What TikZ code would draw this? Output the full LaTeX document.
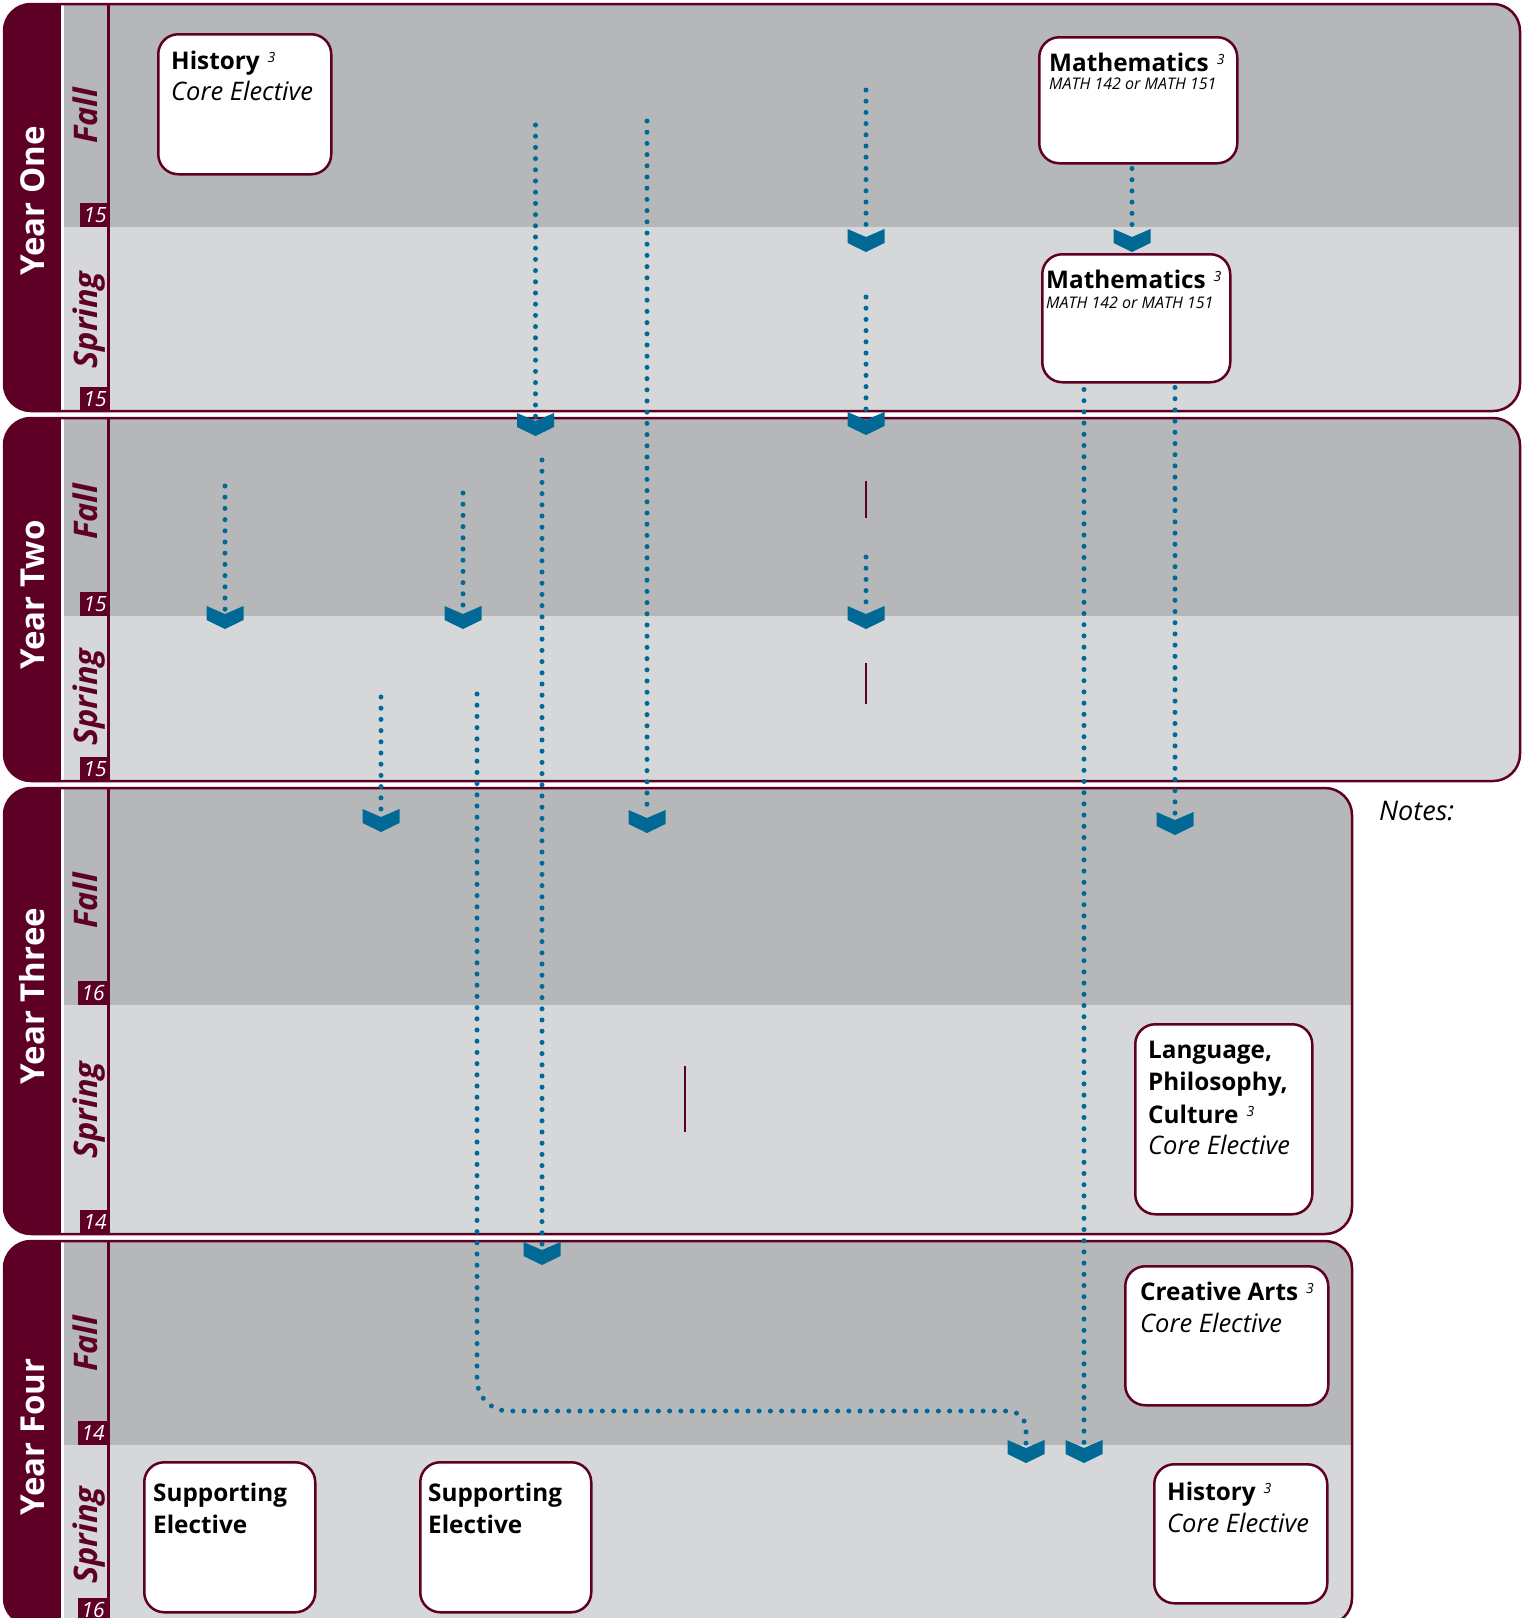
\documentclass[tikz,border=0pt]{standalone}
\usepackage{fontspec}
\setmainfont{Open Sans}
\usetikzlibrary{calc}
\definecolor{mrn}{RGB}{94,0,38}
\definecolor{fallgray}{RGB}{182,183,185}
\definecolor{springgray}{RGB}{214,215,217}
\definecolor{tealblue}{RGB}{0,105,150}
\newcommand\supthree{\hspace{8pt}{\fontsize{14}{14}\selectfont\mdseries\itshape\raisebox{7pt}{3}}}
\newcommand\yrpanel[4]{%
  \begin{scope}
    \clip[rounded corners=27pt] (4,#1) rectangle (#4,#3);
    \fill[fallgray] (4,#1) rectangle (#4,#2);
    \fill[springgray] (4,#2) rectangle (#4,#3);
    \fill[mrn] (4,#1) rectangle (61,#3);
    \fill[white] (61,#1) rectangle (64,#3);
    \draw[mrn, line width=2.5pt] (108.5,#1) -- (108.5,#3);
  \end{scope}
  \draw[mrn, line width=2.5pt, rounded corners=27pt] (4,#1) rectangle (#4,#3);
}
\begin{document}
\begin{tikzpicture}[x=1pt,y=-1pt,
  dotline/.style={draw=tealblue, line width=5pt, line cap=round, dash pattern=on 0pt off 11.2pt},
  redbar/.style={draw=mrn, line width=2.5pt},
  crsbox/.style={draw=mrn, line width=2.5pt, fill=white, rounded corners=20pt, inner sep=0pt, anchor=north west},
  ttl/.style={anchor=base west, inner sep=0pt, font=\fontsize{24.3}{24}\selectfont\bfseries},
  sub/.style={anchor=base west, inner sep=0pt, font=\fontsize{25.5}{25}\selectfont\itshape},
  msub/.style={anchor=base west, inner sep=0pt, font=\fontsize{16}{16}\selectfont\itshape},
  yearlbl/.style={rotate=90, anchor=base, text=white, inner sep=0pt, font=\fontsize{33}{33}\selectfont\bfseries},
  seasonlbl/.style={rotate=90, anchor=base, text=mrn, inner sep=0pt, font=\fontsize{32.5}{32}\selectfont\bfseries\itshape},
  numlbl/.style={fill=mrn, text=white, minimum width=30pt, minimum height=24pt, inner sep=0pt, anchor=south west, font=\fontsize{21}{21}\selectfont\itshape},
  chev/.pic={\fill[tealblue] (-18.5,0) -- (0,8) -- (18.5,0) -- (18.5,14) -- (0,23) -- (-18.5,14) -- cycle;}
]
\clip (0,0) rectangle (1527,1618);
\fill[white] (0,0) rectangle (1527,1618);

% panels
\yrpanel{4}{227}{411}{1520}
\yrpanel{418}{616}{781}{1520}
\yrpanel{788}{1005}{1234}{1352}
\yrpanel{1241}{1445}{1625}{1352}

% credit numbers
\node[numlbl] (n1) at (80,227) {15};
\node[numlbl] (n2) at (80,411) {15};
\node[numlbl] (n3) at (80,616) {15};
\node[numlbl] (n4) at (80,781) {15};
\node[numlbl] (n5) at (78,1005) {16};
\node[numlbl] (n6) at (80,1234) {14};
\node[numlbl] (n7) at (78,1445) {14};
\node[numlbl] (n8) at (78,1622) {16};

% year labels
\node[yearlbl] (y1) at (45,201) {Year One};
\node[yearlbl] (y2) at (45,595) {Year Two};
\node[yearlbl] (y3) at (45,996) {Year Three};
\node[yearlbl] (y4) at (45,1437) {Year Four};

% season labels
\node[seasonlbl] (f1) at (97,116) {Fall};
\node[seasonlbl] (p1) at (97,320) {Spring};
\node[seasonlbl] (f2) at (97,512) {Fall};
\node[seasonlbl] (p2) at (97,697) {Spring};
\node[seasonlbl] (f3) at (97,901) {Fall};
\node[seasonlbl] (p3) at (97,1110) {Spring};
\node[seasonlbl] (f4) at (97,1344) {Fall};
\node[seasonlbl] (p4) at (97,1535) {Spring};

% course boxes
\node[crsbox, minimum width=173pt, minimum height=140pt] (hist1) at (157,33) {};
\node[ttl] (hist1a) at (171,69) {History\supthree};
\node[sub] (hist1b) at (171,100) {Core Elective};

\node[crsbox, minimum width=198pt, minimum height=126pt] (math1) at (1038,36) {};
\node[ttl] (math1a) at (1049,71) {Mathematics\supthree};
\node[msub] (math1b) at (1049,89) {MATH 142 or MATH 151};

\node[crsbox, minimum width=188pt, minimum height=128pt] (math2) at (1041,253) {};
\node[ttl] (math2a) at (1046,288) {Mathematics\supthree};
\node[msub] (math2b) at (1046,308) {MATH 142 or MATH 151};

\node[crsbox, minimum width=177pt, minimum height=190pt] (lpc) at (1134,1023) {};
\node[ttl] (lpca) at (1148,1058) {Language,};
\node[ttl] (lpcb) at (1148,1090) {Philosophy,};
\node[ttl] (lpcc) at (1148,1123) {Culture\supthree};
\node[sub] (lpcd) at (1148,1154) {Core Elective};

\node[crsbox, minimum width=203pt, minimum height=139pt] (ca) at (1124,1265) {};
\node[ttl] (caa) at (1140,1300) {Creative Arts\supthree};
\node[sub] (cab) at (1140,1332) {Core Elective};

\node[crsbox, minimum width=173pt, minimum height=139pt] (hist2) at (1153,1463) {};
\node[ttl] (hist2a) at (1167,1500) {History\supthree};
\node[sub] (hist2b) at (1167,1532) {Core Elective};

\node[crsbox, minimum width=171pt, minimum height=150pt] (se1) at (143,1461) {};
\node[ttl] (se1a) at (153,1501) {Supporting};
\node[ttl] (se1b) at (153,1533) {Elective};

\node[crsbox, minimum width=171pt, minimum height=150pt] (se2) at (419,1461) {};
\node[ttl] (se2a) at (428,1501) {Supporting};
\node[ttl] (se2b) at (428,1533) {Elective};

\node[anchor=base west, inner sep=0pt, font=\fontsize{27}{27}\selectfont\itshape] (notes) at (1379,820) {Notes:};

% coordinates
\coordinate (s1) at (866,90);    \coordinate (c1) at (866,229);
\coordinate (c2) at (1132,229);
\coordinate (s3) at (535.5,125); \coordinate (c3) at (535.5,413);
\coordinate (s4) at (866,297);   \coordinate (c4) at (866,412);
\coordinate (s5) at (866,557);   \coordinate (c5) at (866,606);
\coordinate (s6) at (225,486);   \coordinate (c6) at (225,606);
\coordinate (s7) at (463,493);   \coordinate (c7) at (463,606);
\coordinate (s8) at (381,697);   \coordinate (c8) at (381,809);
\coordinate (s9) at (647,121);   \coordinate (c9) at (647,810);
\coordinate (c10) at (1175,812);
\coordinate (s11) at (542,460);  \coordinate (c11) at (542,1242);
\coordinate (s12) at (477,694);  \coordinate (c12) at (1026,1440);
\coordinate (c13) at (1084,1440);

% dotted connectors
\draw[dotline] (s1) -- ($(c1)+(0,5)$);
\draw[dotline] ($(c2 |- math1.south)+(0,4)$) -- ($(c2)+(0,5)$);
\draw[dotline] (s3) -- ($(c3)+(0,5)$);
\draw[dotline] (s4) -- ($(c4)+(0,5)$);
\draw[dotline] (s5) -- ($(c5)+(0,5)$);
\draw[dotline] (s6) -- ($(c6)+(0,5)$);
\draw[dotline] (s7) -- ($(c7)+(0,5)$);
\draw[dotline] (s8) -- ($(c8)+(0,5)$);
\draw[dotline] (s9) -- ($(c9)+(0,5)$);
\draw[dotline] ($(c10 |- math2.south)+(0,4)$) -- ($(c10)+(0,5)$);
\draw[dotline] (s11) -- ($(c11)+(0,5)$);
\draw[dotline] (s12) -- (477,1379) .. controls (477,1397) and (491,1411) .. (509,1411)
   -- (1009,1411) .. controls (1018,1411) and (1026,1420) .. (1026,1428) -- ($(c12)+(0,5)$);
\draw[dotline] ($(c13 |- math2.south)+(0,6)$) -- ($(c13)+(0,5)$);

% chevrons
\foreach \c in {c1,c2,c3,c4,c5,c6,c7,c8,c9,c10,c11,c12,c13} \pic at (\c) {chev};

% maroon bars
\draw[redbar] (866,481) -- (866,518);
\draw[redbar] (866,663) -- (866,704);
\draw[redbar] (685,1066) -- (685,1132);
\end{tikzpicture}
\end{document}
